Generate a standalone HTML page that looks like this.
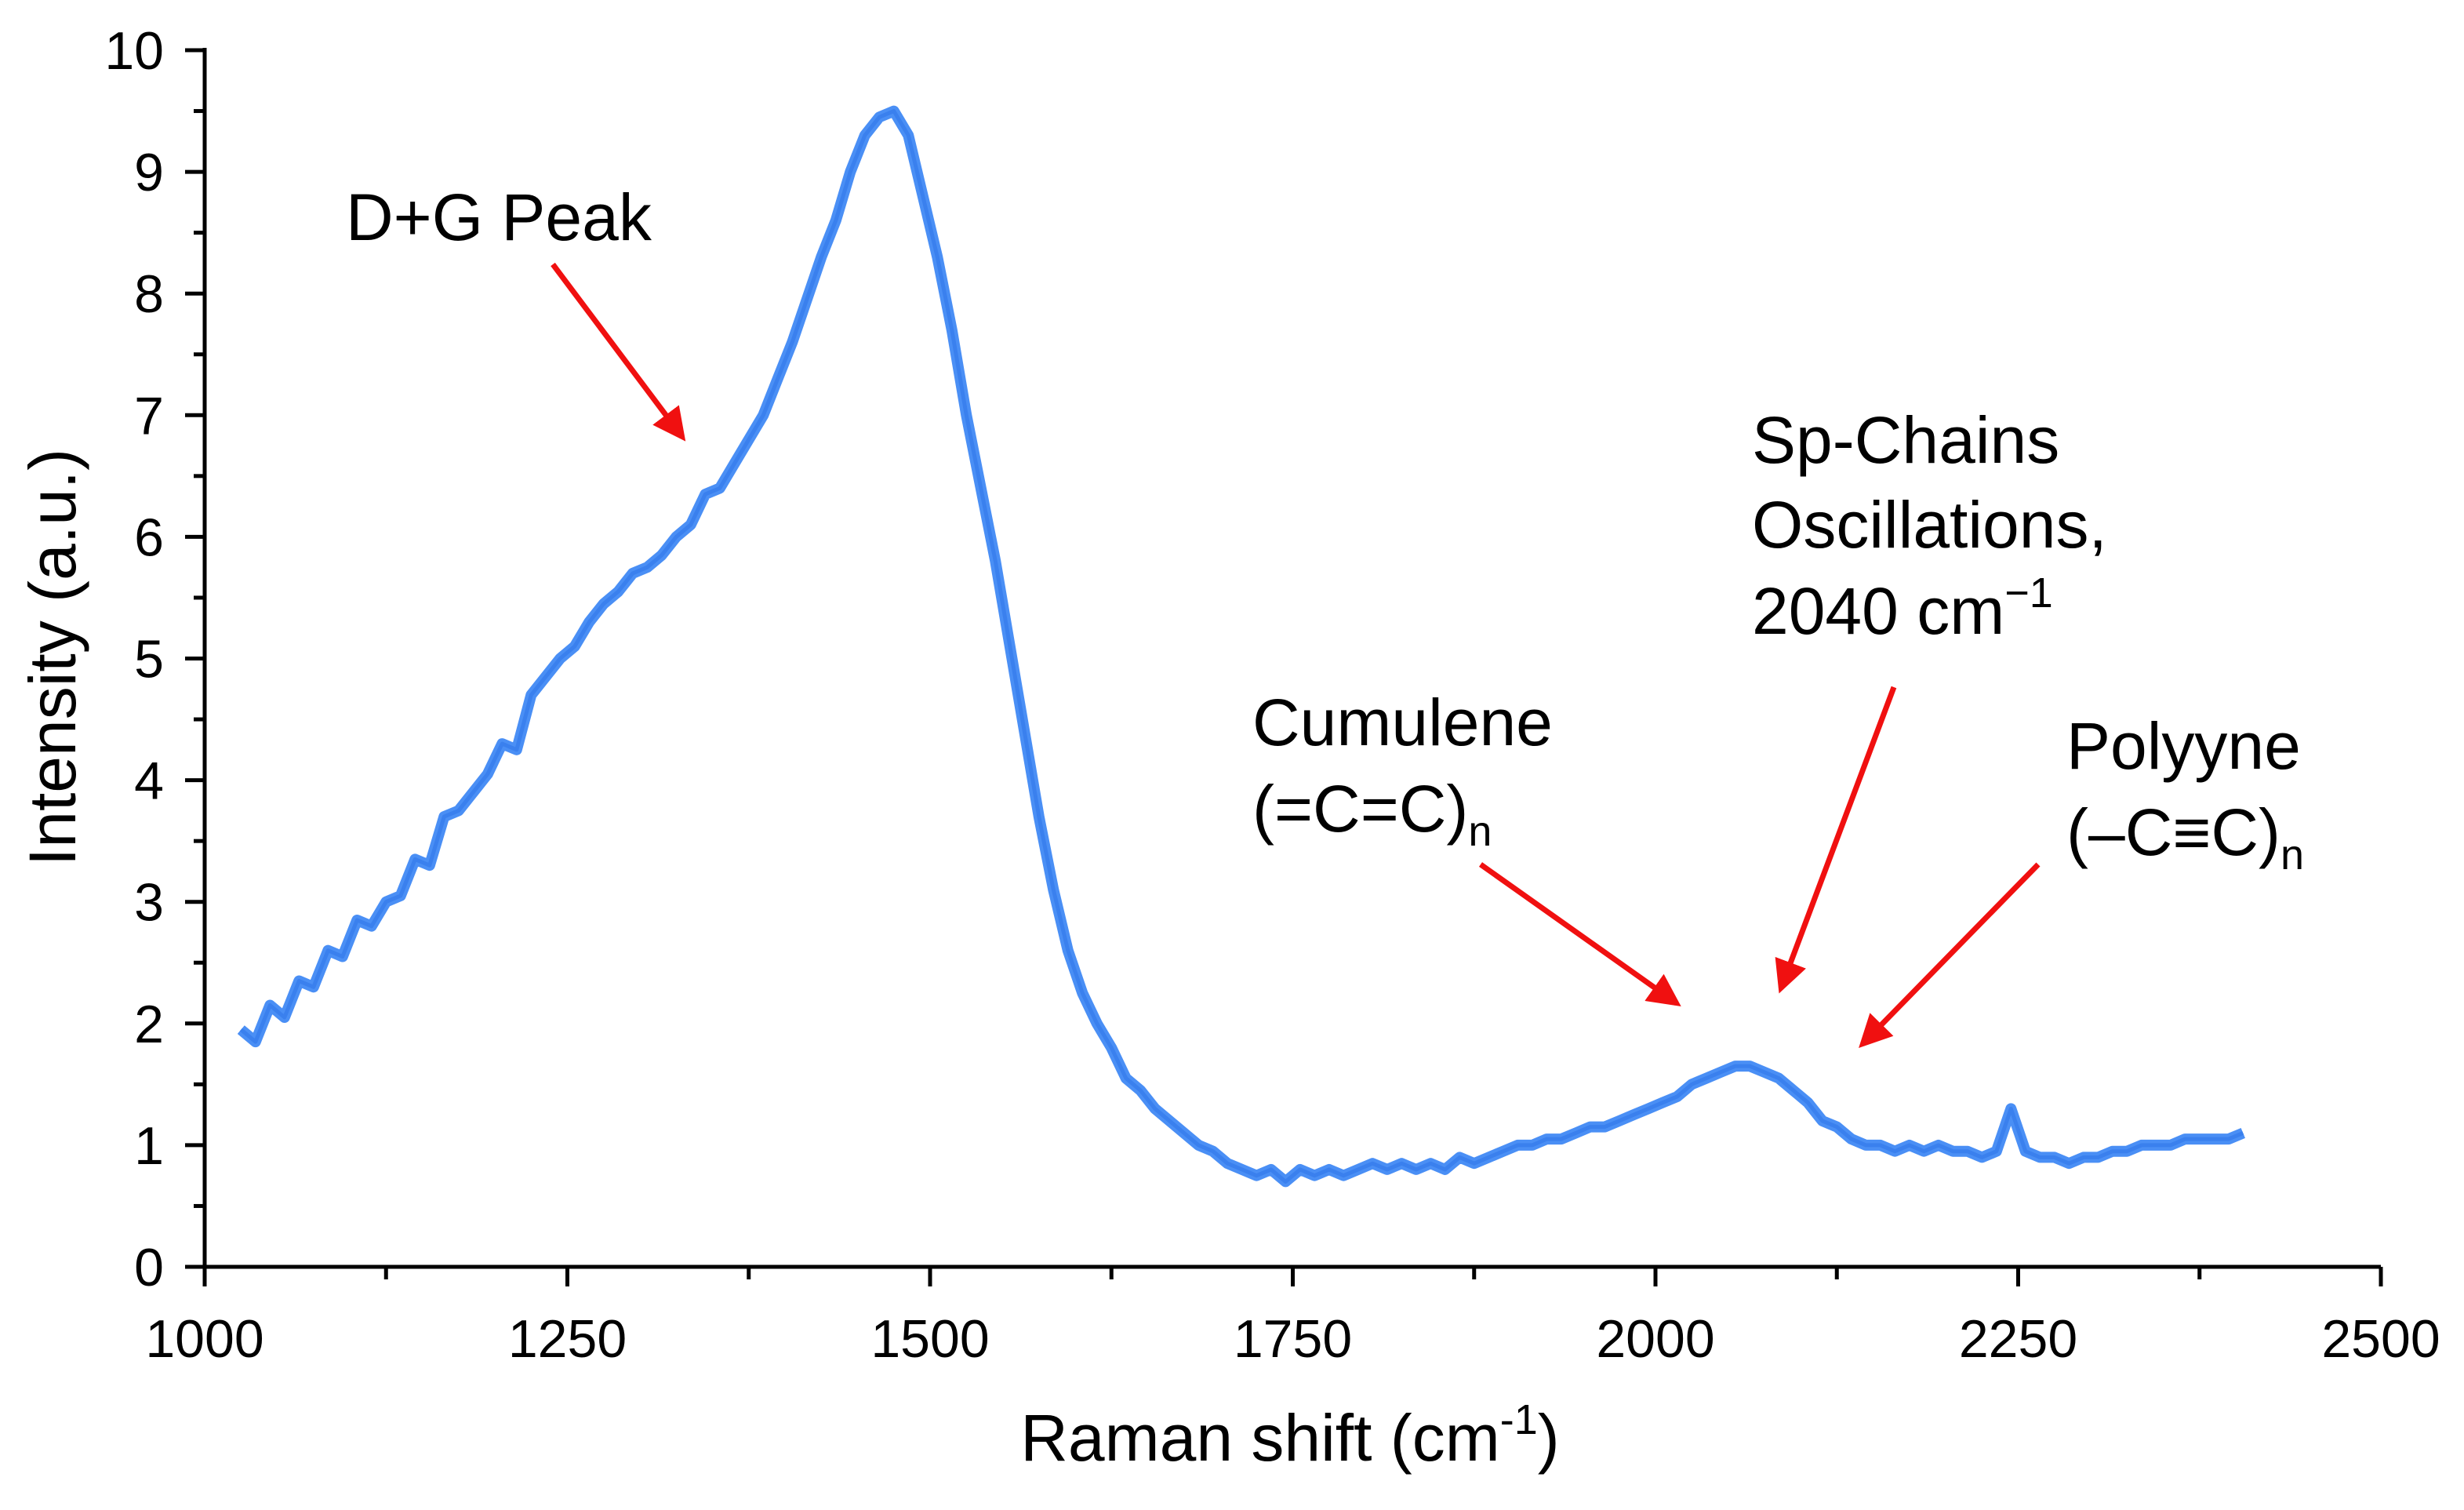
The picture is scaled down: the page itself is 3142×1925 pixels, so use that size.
<!DOCTYPE html>
<html><head><meta charset="utf-8"><style>
html,body{margin:0;padding:0;background:#fff}
svg{display:block;font-family:"Liberation Sans",Arial,sans-serif}
</style></head><body>
<svg id="chart" width="3142" height="1925" viewBox="0 0 3142 1925" xmlns="http://www.w3.org/2000/svg">
<defs><marker id="ah" markerWidth="6" markerHeight="6" refX="5" refY="3" orient="auto" markerUnits="strokeWidth"><path d="M0,0 L6,3 L0,6 Z" fill="#f01010"/></marker></defs>
<g id="axes"></g>
<path id="spectrum" fill="none" stroke="#4a8ff5" stroke-width="14" stroke-linejoin="round"/>
<path id="spectrum2" fill="none" stroke="#3a80ee" stroke-width="5" stroke-linejoin="round"/>
<text x="1645" y="1862" font-size="84" text-anchor="middle">Raman shift (cm<tspan font-size="54" dy="-34">-1</tspan><tspan dy="34">)</tspan></text>
<text transform="translate(96,838) rotate(-90)" font-size="84" text-anchor="middle">Intensity (a.u.)</text>
<text x="441" y="306" font-size="84">D+G Peak</text>
<text font-size="84"><tspan x="2234" y="590">Sp-Chains</tspan><tspan x="2234" y="698">Oscillations,</tspan><tspan x="2234" y="808">2040 cm</tspan><tspan font-size="54" dy="-34">−1</tspan></text>
<text font-size="84"><tspan x="1597" y="950">Cumulene</tspan><tspan x="1597" y="1060">(=C=C)</tspan><tspan font-size="54" dy="18">n</tspan></text>
<text font-size="84"><tspan x="2635" y="980">Polyyne</tspan><tspan x="2635" y="1090">(–C≡C)</tspan><tspan font-size="54" dy="18">n</tspan></text>
<g stroke="#f01010" stroke-width="7" marker-end="url(#ah)">
<line x1="705" y1="337" x2="870" y2="557"/>
<line x1="1888" y1="1102" x2="2138" y2="1279"/>
<line x1="2415" y1="876" x2="2271" y2="1260"/>
<line x1="2599" y1="1102" x2="2375" y2="1331"/>
</g>
</svg>
<script>
const xStart = 1025, xStep = 10;
const intensity = [1.95,1.85,2.15,2.05,2.35,2.3,2.6,2.55,2.85,2.8,3.0,3.05,3.35,3.3,3.7,3.75,3.9,4.05,4.3,4.25,4.7,4.85,5.0,5.1,5.3,5.45,5.55,5.7,5.75,5.85,6.0,6.1,6.35,6.4,6.6,6.8,7.0,7.3,7.6,7.95,8.3,8.6,9.0,9.3,9.45,9.5,9.3,8.8,8.3,7.7,7.0,6.4,5.8,5.1,4.4,3.7,3.1,2.6,2.25,2.0,1.8,1.55,1.45,1.3,1.2,1.1,1.0,0.95,0.85,0.8,0.75,0.8,0.7,0.8,0.75,0.8,0.75,0.8,0.85,0.8,0.85,0.8,0.85,0.8,0.9,0.85,0.9,0.95,1.0,1.0,1.05,1.05,1.1,1.15,1.15,1.2,1.25,1.3,1.35,1.4,1.5,1.55,1.6,1.65,1.65,1.6,1.55,1.45,1.35,1.2,1.15,1.05,1.0,1.0,0.95,1.0,0.95,1.0,0.95,0.95,0.9,0.95,1.3,0.95,0.9,0.9,0.85,0.9,0.9,0.95,0.95,1.0,1.0,1.0,1.05,1.05,1.05,1.05,1.1];
const xTicks = [1000,1250,1500,1750,2000,2250,2500];
const yTicks = [0,1,2,3,4,5,6,7,8,9,10];
const L=261,R=3036,T=64,B=1615;
const sx = v => L + (v-1000)/(2500-1000)*(R-L);
const sy = v => B - v/10*(B-T);
const NS="http://www.w3.org/2000/svg";
const ax=document.getElementById('axes');
function ln(x1,y1,x2,y2,w){const e=document.createElementNS(NS,'line');e.setAttribute('x1',x1);e.setAttribute('y1',y1);e.setAttribute('x2',x2);e.setAttribute('y2',y2);e.setAttribute('stroke','#000');e.setAttribute('stroke-width',w);ax.appendChild(e);return e;}
function tx(x,y,s,anchor){const e=document.createElementNS(NS,'text');e.setAttribute('x',x);e.setAttribute('y',y);e.setAttribute('font-size','68');e.setAttribute('text-anchor',anchor);e.textContent=s;ax.appendChild(e);return e;}
let a=ln(L,B,R,B,5);


a=ln(L,T-3,L,B+25,5);


xTicks.forEach(v=>{const x=sx(v);ln(x,B,x,B+25,5);
 const t=tx(x,B+115,String(v),'middle');
 
 });
for(let v=1125;v<2500;v+=250){const x=sx(v);ln(x,B,x,B+16,5);}
yTicks.forEach(v=>{const y=sy(v);ln(L-25,y,L,y,5);
 const t=tx(L-52,y+24,String(v),'end');
 
 });
for(let v=0.5;v<10;v+=1){const y=sy(v);ln(L-14,y,L,y,5);}
let d='';
intensity.forEach((v,i)=>{d+=(i?'L':'M')+sx(xStart+i*xStep).toFixed(1)+','+sy(v).toFixed(1);});
document.getElementById('spectrum').setAttribute('d',d);
document.getElementById('spectrum2').setAttribute('d',d);
</script>
</body></html>
